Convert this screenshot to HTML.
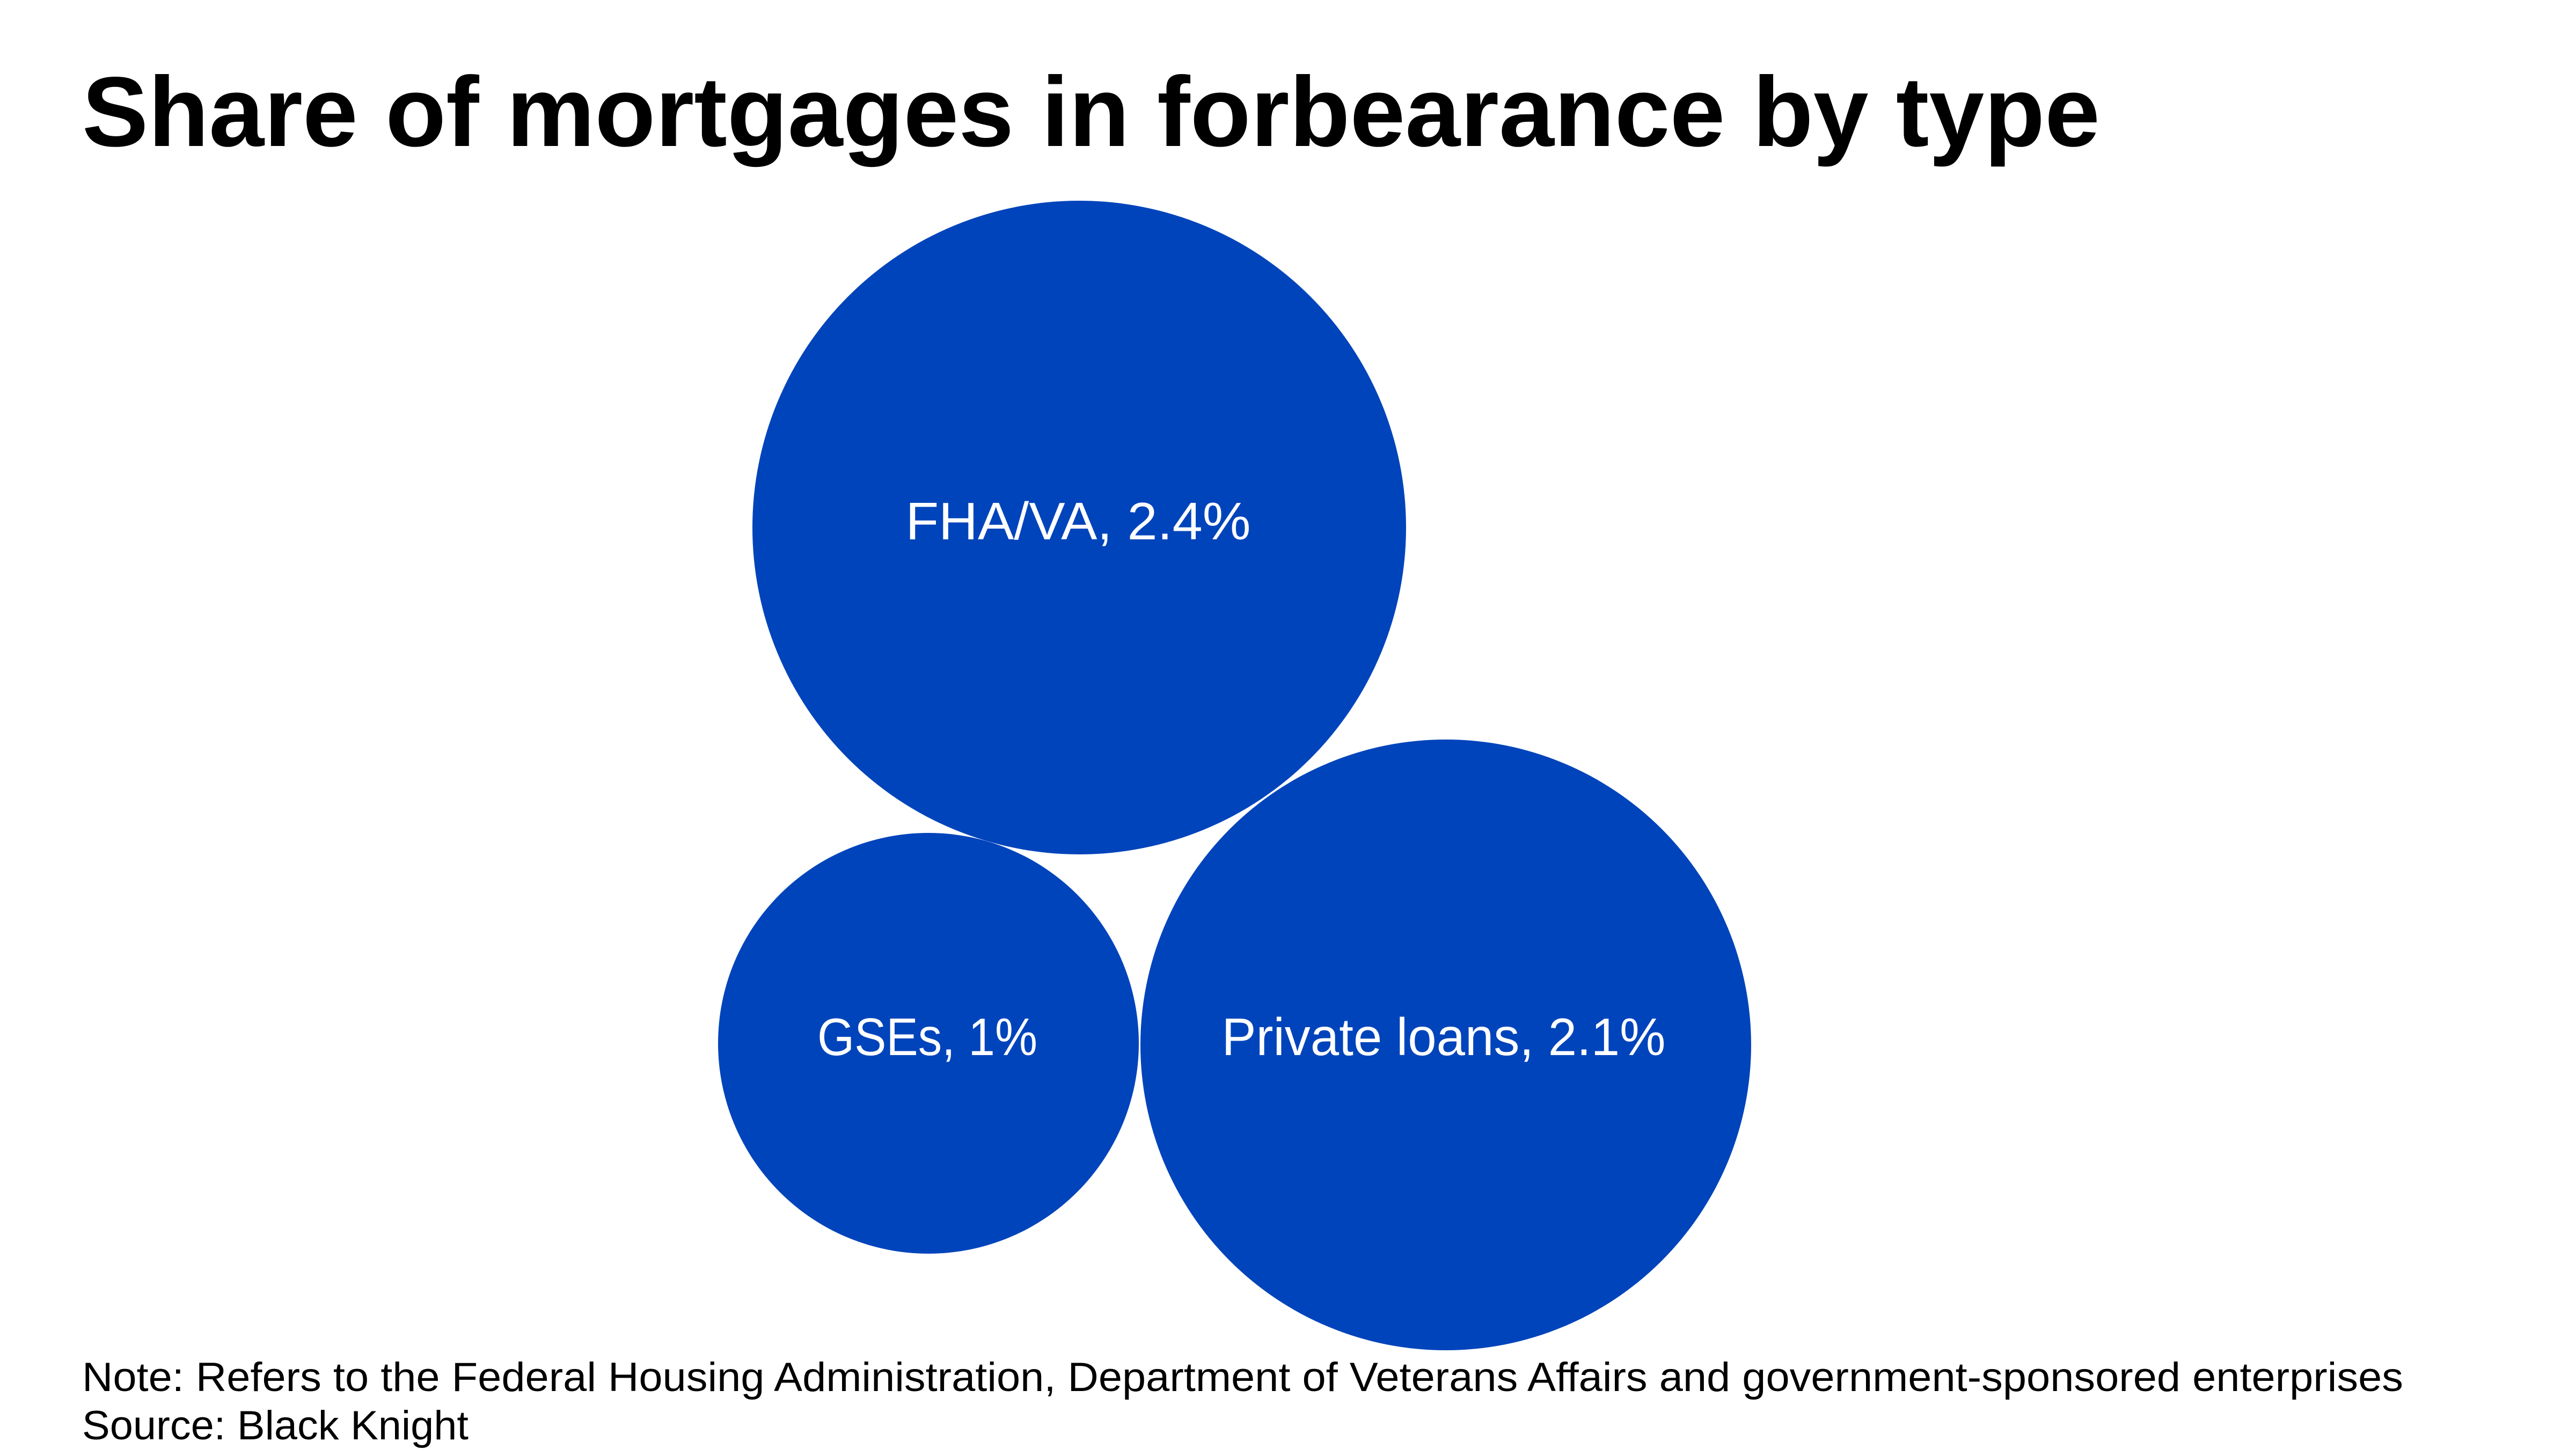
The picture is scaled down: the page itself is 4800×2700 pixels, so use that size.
<!DOCTYPE html>
<html>
<head>
<meta charset="utf-8">
<style>
html,body{margin:0;padding:0;background:#fff;}
svg{display:block;}
</style>
</head>
<body>
<svg width="4800" height="2700" viewBox="0 0 4800 2700" xmlns="http://www.w3.org/2000/svg">
<rect width="4800" height="2700" fill="#ffffff"/>
<text x="153" y="272" font-family="Liberation Sans, sans-serif" font-weight="bold" font-size="185" fill="#000" textLength="3760" lengthAdjust="spacingAndGlyphs">Share of mortgages in forbearance by type</text>
<circle cx="2011" cy="983" r="609" fill="#0044BB"/>
<circle cx="1730" cy="1944" r="392" fill="#0044BB"/>
<circle cx="2694" cy="1947" r="569" fill="#0044BB"/>
<g font-family="Liberation Sans, sans-serif" font-size="98" fill="#ffffff" text-anchor="middle">
<text x="2009" y="1005" textLength="643" lengthAdjust="spacingAndGlyphs">FHA/VA, 2.4%</text>
<text x="1728" y="1966" textLength="410" lengthAdjust="spacingAndGlyphs">GSEs, 1%</text>
<text x="2690" y="1966" textLength="827" lengthAdjust="spacingAndGlyphs">Private loans, 2.1%</text>
</g>
<g font-family="Liberation Sans, sans-serif" font-size="76" fill="#000">
<text x="153" y="2592" textLength="4325" lengthAdjust="spacingAndGlyphs">Note: Refers to the Federal Housing Administration, Department of Veterans Affairs and government-sponsored enterprises</text>
<text x="153" y="2682" textLength="720" lengthAdjust="spacingAndGlyphs">Source: Black Knight</text>
</g>
</svg>
</body>
</html>
